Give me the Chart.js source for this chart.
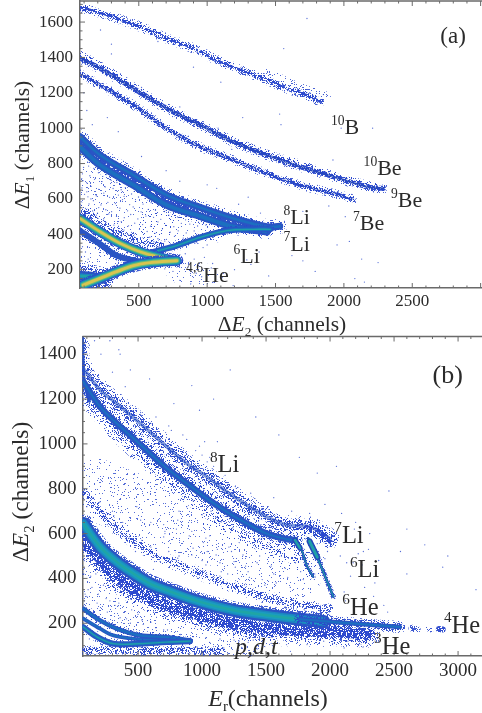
<!DOCTYPE html>
<html><head><meta charset="utf-8">
<style>
html,body{margin:0;padding:0;background:#fff;width:482px;height:713px;overflow:hidden}
canvas{position:absolute;left:0;filter:blur(0.5px)}
#ca{top:0}#cb{top:335px}
</style>
<script src="https://cdn.jsdelivr.net/npm/chart.js@4"></script>
</head><body>
<canvas id="ca" width="482" height="345"></canvas>
<canvas id="cb" width="482" height="378"></canvas>
<script>
// ---------- panel (a) ----------
const aXTicks=[500,1000,1500,2000,2500];
const aYTicks=[200,400,600,800,1000,1200,1400,1600];
const a10B=[[70,1683],[192,1658],[338,1621],[509,1574],[704,1508],[899,1451],[1070,1385],[1241,1329],[1411,1282],[1582,1225],[1729,1187],[1826,1150]];
const a10Bfaint=[[1450,1320],[1600,1262],[1750,1215],[1880,1185]];
const a10Be=[[70,1425],[250,1345],[460,1243],[630,1155],[800,1082],[1000,1000],[1200,935],[1436,860],[1680,805],[1900,745],[2100,700],[2270,665]];
const a9Be=[[70,1395],[216,1338],[460,1225],[704,1112],[948,1018],[1192,923],[1436,848],[1680,782],[1924,726],[2168,669],[2290,660]];
const a7Be=[[70,1306],[216,1244],[460,1131],[704,999],[948,895],[1192,820],[1436,744],[1680,678],[1924,631],[2070,599]];
const a8Li=[[70,952],[216,848],[460,735],[704,622],[948,552],[1192,490],[1436,443],[1530,445]];
const a7Li=[[70,895],[216,792],[460,679],[704,566],[948,503],[1192,443],[1436,415]];
const aLiMid=[[70,924],[216,820],[460,707],[704,594],[948,528],[1192,466],[1436,430]];
const a6Li=[[582,296],[753,330],[948,383],[1144,421],[1339,428],[1461,428]];
const a6Lifaint=[[70,545],[216,471],[338,412],[460,377],[558,349],[700,340]];
const a4He=[[70,490],[216,415],[363,349],[509,302],[656,270],[778,251]];
const a4Helow=[[70,420],[216,345],[338,280],[480,250],[600,245]];
const a6He=[[94,113],[216,151],[338,189],[460,223],[582,240],[778,251]];
const aBlob1=[[80,165],[150,160],[230,148]];
const aCloud1=[[70,660],[300,600],[600,470]];
const aCloud2=[[600,450],[800,440],[1050,425]];
const aCloud3=[[70,340],[130,260],[330,215]];
const aCloud4=[[780,190],[1000,170]];
const aPtsX=[96,133,171,88,142,205,262,92,118,176,231,298,340,84,151,207,255,312,371,402,103,128,189,244,286,351,392,447,498,79,136,168,223,274,329,381,433,476,531,590,110,162,207,259,301,362,418,459,517,569,622,688,744,144,190,243,280,337,394,441,493,552,608,661,719,783,842,260,318,372,425,470,528,586,640,697,756,811,873,930,990,392,447,505,561,618,673,730,788,847,905,580,640,702,761,825,610,690,
 75,83,120,150,198,92,142,88,110,171,76,130,560,630,690,750,800,860,920,980,1040,1110,1200,1290,1380,760,840,905,970,1030,1120,800,880,960,1050,1190,1320,1450,830,910,1000,1620,1700,1790,1950,2080,2150,2130,1850,1530,1260,1100,900,640,410,300,220,120,98,160,270,350,520,700,800,1000,1300,1700,1980,2210,1920,1540,1180,780,1890,2010,1070,1230,1390,1560,1730,300,520,800,1080,1400,1750,2040,2250,1630,1450];
const aPtsY=[778,786,772,742,731,748,738,703,692,711,698,705,693,662,671,654,668,659,652,664,626,612,618,633,609,622,615,628,611,584,572,590,566,581,574,596,568,586,571,579,547,532,551,539,528,548,533,555,527,541,536,529,544,497,509,488,515,501,494,512,487,503,496,485,508,499,482,467,452,471,448,463,455,446,470,451,443,462,458,447,452,424,411,428,416,405,431,412,420,408,419,384,375,371,388,379,358,362,
 860,715,640,600,520,470,360,330,300,385,420,260,220,245,205,190,285,215,180,270,235,155,200,255,300,340,290,260,325,210,180,140,120,160,130,110,230,165,370,350,340,280,250,190,340,150,130,260,1190,1080,1060,1260,1345,1490,1600,1475,1555,1100,1200,1020,1060,980,840,760,700,680,610,530,1000,1000,820,1020,880,950,560,500,660,570,520,1450,1620,1420,1230,1120,1000,860,790,360,240];

// ---------- panel (b) ----------
const bXTicks=[500,1000,1500,2000,2500,3000];
const bYTicks=[200,400,600,800,1000,1200,1400];
const b8Li=[[72,1337],[203,1241],[333,1181],[515,1092],[724,988],[880,913],[1036,854],[1193,787],[1349,727],[1505,675],[1661,638],[1843,630],[1999,578]];
const b7Li=[[72,1278],[203,1166],[333,1092],[463,1025],[593,958],[724,891],[880,824],[1036,757],[1193,697],[1349,645],[1505,600],[1661,575],[1726,571]];
const b7Low=[[100,1190],[333,1040],[593,905],[880,770],[1193,640],[1505,540],[1750,490]];
const bTop=[[66,1470],[72,1350],[85,1260],[120,1190]];
const bSpike7=[[1726,571],[1778,526],[1817,459],[1869,407]];
const bSpike6=[[1830,578],[1882,518],[1947,429],[2026,318]];
const bHead7=[[1726,571],[1765,535]];
const bHead6=[[1840,565],[1900,495]];
const bEndBlob=[[1800,630],[1900,612],[2000,565]];
const b4He=[[72,645],[203,541],[333,474],[463,422],[593,377],[724,347],[984,295],[1245,258],[1505,236],[1765,218],[1950,208]];
const b4HeTail=[[1765,218],[2026,206],[2286,194],[2546,183]];
const b3He=[[72,578],[203,489],[333,407],[463,355],[724,280],[984,236],[1245,198],[1505,176],[1765,169],[2026,161],[2286,154]];
const b6He=[[72,787],[203,697],[333,623],[593,518],[854,451],[1114,392],[1375,340],[1635,295],[1895,273]];
const bP=[[72,265],[203,213],[333,176],[515,146],[724,138],[906,124]];
const bD=[[72,221],[203,176],[307,146],[515,128],[724,125]];
const bT=[[72,183],[180,139],[307,109],[515,109],[724,116],[906,120]];
const bBase=[[72,78],[330,82],[620,76],[880,80],[1150,76]];
const bTail=[[2640,178],[2680,172]];
const bTail2=[[2760,176],[2790,170]];
const bTail3=[[2850,174],[2880,172]];
const bBlob=[[1950,262],[1990,268]];
const bCloud1=[[150,800],[600,700],[1100,600],[1700,430]];
const bCloud2=[[1100,680],[1500,560],[1850,470]];
const bCloud3=[[72,390],[400,230],[900,185],[1300,110]];
const bCloud4=[[1500,130],[2100,125]];
const bPtsX=[1000,1070,1110,880,930,1150,1240,1350,1460,1580,1700,1800,1900,1980,1060,1180,1290,1400,1510,1620,1730,1850,1960,1210,1320,1430,1540,1650,1770,1880,1000,1110,800,900,1010,1120,1230,1340,1450,1560,1670,1790,700,810,920,1030,1140,1250,1360,1470,1580,1690,600,710,820,930,1040,1150,1260,1370,1490,480,590,700,810,920,1030,1140,380,490,600,710,820,300,410,520,630,740,200,310,420,530,640,150,260,370,480,100,210,320,430,90,180,270,140,
 100,180,260,340,420,110,190,280,360,450,530,620,130,230,320,410,500,600,700,800,90,170,250,350,440,540,640,730,830,930,1030,1140,1250,1360,120,210,300,390,480,570,660,760,860,960,1060,1170,1290,1400,1540,1660,1780,1900,2020,2140,2260,2380,1310,1430,1550,1690,1820,1950,2110,2230,80,76,86,74,82,
 760,880,980,1000,1040,1080,950,1020,1060,1090,1180,640,740,850,980,1120,300,400,520,210,350,440,590,780,920,1090,1220,1420,1600,1760,1900,2050,1100,1260,1380,1560,1700,1840,1960,2090,2200,2310,2460,2600,2740,2920,2000,2120,2180,2250,2300,2080,2130,2220,2380,2600,2880,3140,2350,2450,2550,2110,2160,2270,2340,2190,2260,2420,120,280,160,360,1200,1270];
const bPtsY=[684,700,672,720,746,652,626,600,640,585,560,530,555,520,590,610,560,612,534,500,470,510,488,540,505,470,455,445,430,420,480,505,620,590,560,530,520,455,500,420,405,395,640,660,610,580,470,475,430,395,380,360,650,610,700,535,520,430,450,405,370,570,640,585,490,505,460,410,650,720,540,600,500,700,575,660,475,520,740,680,610,570,500,760,640,600,520,720,700,640,580,650,550,450,
 360,320,290,250,275,400,350,330,300,225,260,215,440,410,370,280,220,240,205,170,480,520,420,310,290,200,195,180,170,150,140,135,130,125,115,130,105,150,170,110,100,120,98,110,95,115,90,120,125,110,105,130,145,110,120,95,118,92,85,100,75,105,120,90,110,480,420,330,260,300,
 1060,1020,990,950,920,890,970,1010,940,900,860,1120,1080,1040,1150,1010,1320,1255,1140,1400,1420,1330,1290,1180,1260,1200,1330,1120,1040,940,870,900,820,810,780,760,700,690,730,690,650,600,790,620,550,500,330,300,470,460,530,500,470,510,480,420,450,350,380,250,520,340,410,360,320,620,520,280,1440,1460,1460,1400,420,880];

const AX=[[70,3010],[96.5,1719]];
const BX=[[66,3187],[54,1479]];
const frame='#6a6a6a', ink='#2b2b2b', fnt='"Liberation Serif","Times New Roman",serif';
const dot='rgba(45,75,205,0.8)';
const BLUE='#2347b9',MID='#1b6fc0',TEAL='#1f9fa8',GRN='#7fbf70',YEL='#e2c64a';
const SOFT='#2a55c4',SKY='#1c86c0',AQUA='#1fa5a5',LEAF='#6fbb78',GOLD='#d8c450';

// speckle texture used as a stroke style for the fuzzy edge of each band
function tile(density,alpha){
  const n=128,c=document.createElement('canvas');c.width=c.height=n;
  const g=c.getContext('2d');g.fillStyle=`rgba(42,72,205,${alpha})`;
  for(let y=0;y<n;y++)for(let x=0;x<n;x++){
    let h=Math.imul(x*73856093^y*19349663,2654435761)>>>0;h=(h^(h>>>13));h=Math.imul(h,1274126177)>>>0;h=(h^(h>>>16))>>>0;
    if((h%1000)/1000<density)g.fillRect(x,y,1,1);
  }
  return g.createPattern(c,'repeat');
}
const S0=tile(0.06,0.8),S1=tile(0.12,0.85),S2=tile(0.25,0.9),S3=tile(0.45,0.9),S4=tile(0.75,0.95);
const fz=(w)=>[[S1,w],[S2,w*0.72],[S3,w*0.48]];
const fzL=(w)=>[[S1,w],[S2,w*0.6]];

function pairs(xs,ys){return xs.map((x,i)=>[x,ys[i]]);}
function build(bands,ptsX,ptsY){
  const ds=[];
  ds.push({data:pairs(ptsX,ptsY),showLine:false,pointRadius:0.65,pointBorderWidth:0,pointBackgroundColor:dot});
  for(const [arr,layers] of bands){
    for(const [color,w] of layers){
      ds.push({data:arr,showLine:true,pointRadius:0,borderColor:color,borderWidth:w,tension:0.35,borderCapStyle:'round',borderJoinStyle:'round'});
    }
  }
  ds.forEach((d,i)=>d.order=ds.length-i);
  return ds;
}
function runs(ctx,x,y,items,size,center){
  const f=(it)=>`${it.i?'italic ':''}${Math.round(size*(it.s||1)*10)/10}px ${fnt}`;
  let w=0;for(const it of items){ctx.font=f(it);w+=ctx.measureText(it.t).width;}
  let cx=center?x-w/2:x;
  ctx.textAlign='left';ctx.textBaseline='alphabetic';ctx.fillStyle=ink;
  for(const it of items){ctx.font=f(it);ctx.fillText(it.t,cx,y+(it.dy||0)*size);cx+=ctx.measureText(it.t).width;}
}
function iso(sup,name){return [{t:sup,s:0.62,dy:-0.42},{t:name}];}
function overlay(id,labels,xTitle,yTitle){
  return {id,afterDatasetsDraw(c){
    const {ctx,chartArea:ca,scales:{x,y}}=c;
    ctx.save();
    ctx.strokeStyle=frame;ctx.lineWidth=1;ctx.beginPath();
    for(let v=100;v<x.max;v+=100){const p=x.getPixelForValue(v);if(p<ca.left)continue;const l=v%500==0?5:2.5;ctx.moveTo(p,ca.bottom);ctx.lineTo(p,ca.bottom-l);ctx.moveTo(p,ca.top);ctx.lineTo(p,ca.top+l);}
    for(let v=100;v<y.max;v+=50){const p=y.getPixelForValue(v);if(p>ca.bottom)continue;const l=v%200==0?5:2.5;ctx.moveTo(ca.left,p);ctx.lineTo(ca.left+l,p);}
    ctx.stroke();
    ctx.lineWidth=1.4;ctx.beginPath();ctx.moveTo(ca.left,ca.top);ctx.lineTo(ca.right,ca.top);ctx.stroke();
    for(const l of labels) runs(ctx,x.getPixelForValue(l.x),y.getPixelForValue(l.y),l.items,l.size);
    runs(ctx,xTitle.x,xTitle.y,xTitle.items,xTitle.size,true);
    ctx.translate(yTitle.x,yTitle.y);ctx.rotate(-Math.PI/2);
    runs(ctx,0,0,yTitle.items,yTitle.size,true);
    ctx.restore();
  }};
}
function noPad(s){s.paddingTop=s.paddingBottom=s.paddingLeft=s.paddingRight=0;}
function make(id,bands,px,py,rng,xt,yt,left,bottom,top,tf,xpad,ypad,labels,xTitle,yTitle){
  const tick=(t)=>({color:ink,font:{family:fnt,size:tf},maxRotation:0,autoSkip:false,padding:t,includeBounds:false,callback:v=>String(v)});
  return new Chart(document.getElementById(id),{type:'scatter',
    data:{datasets:build(bands,px,py)},
    plugins:[overlay('ov'+id,labels,xTitle,yTitle)],
    options:{responsive:false,animation:false,devicePixelRatio:1,
      layout:{autoPadding:false,padding:{top,right:0,left:0,bottom:0}},
      plugins:{legend:{display:false},tooltip:{enabled:false}},
      scales:{
        x:{type:'linear',min:rng[0][0],max:rng[0][1],afterBuildTicks:s=>{s.ticks=xt.map(v=>({value:v}));},
           ticks:tick(xpad),grid:{display:false,drawTicks:false},border:{color:frame,width:1.5},afterFit:s=>{s.height=bottom;noPad(s);}},
        y:{type:'linear',min:rng[1][0],max:rng[1][1],afterBuildTicks:s=>{s.ticks=yt.map(v=>({value:v}));},
           ticks:tick(ypad),grid:{display:false,drawTicks:false},border:{color:frame,width:1.5},afterFit:s=>{s.width=left;noPad(s);}}
      }}});
}
const aBands=[
 [aCloud1,[[S0,50]]],[aCloud2,[[S0,26]]],[aCloud3,[[S0,24]]],[aCloud4,[[S0,22]]],
 [a10B,[...fz(10),[S4,2.6]]],
 [a10Bfaint,[[S1,7]]],
 [a10Be,[...fzL(6)]],
 [a9Be,[...fz(10),[S4,5],[BLUE+'aa',2.6]]],
 [a7Be,[...fz(9),[S4,3.6],[BLUE+'66',1.6]]],
 [a6Lifaint,[[S1,13],[S2,8],[S3,4]]],
 [a8Li,[...fz(15)]],
 [a7Li,[...fz(15)]],
 [aLiMid,[[S4,9]]],
 [a8Li,[[SOFT,7],[MID,2.6]]],
 [a7Li,[[SOFT,7.6],[MID,3.8]]],
 [a6Li,[...fz(11),[SOFT,6],[MID,3.4],[TEAL,1.4]]],
 [a4Helow,[...fz(13),[SOFT,6]]],
 [aBlob1,[[S2,24],[S3,18],[SOFT,10],[SKY,5],[AQUA,2.5]]],
 [a4He,[[S3,12.5],[SOFT,9.5],[SKY,7.6],[AQUA,6],[LEAF,4.4],[GOLD,2.6]]],
 [a6He,[[S3,13],[SOFT,10],[SKY,8],[AQUA,6.4],[LEAF,4.8],[GOLD,3]]],
];
const bBands=[
 [bCloud1,[[S0,62]]],[bCloud2,[[S0,30],[S1,12]]],[bCloud3,[[S0,50]]],[bCloud4,[[S0,14]]],
 [bTop,[...fz(13),[SOFT,3]]],
 [b7Low,[[S1,14],[S2,7]]],
 [b8Li,[...fz(20),[SOFT+'99',3.5]]],
 [b7Li,[...fz(21),[SOFT,6.5],[MID,2]]],
 [bEndBlob,[[S2,15],[S3,10],[S4,5]]],
 [bSpike7,[[S3,4.5],[BLUE,2.4],[TEAL,0.9]]],
 [bSpike6,[[S3,5],[BLUE,2.8],[TEAL,1.1]]],
 [bHead7,[[BLUE,5.5],[TEAL,2.6]]],
 [bHead6,[[BLUE,6],[TEAL,3]]],
 [b6He,[[S1,13],[S2,8],[S3,3.5]]],
 [b3He,[[S1,28],[S2,22],[S3,17],[S4,11]]],
 [b4He,[[S3,18],[SOFT,13],[SKY,8.6],['#1a9cc0',5.6],[AQUA,2.4]]],
 [b4HeTail,[[S2,12],[S3,8.5],[SOFT,4.5],[MID,2]]],
 [bP,[...fzL(10),[SOFT,4.6],[MID,2.2]]],
 [bD,[[SOFT,3.8],[MID,1.6]]],
 [bT,[...fzL(10),[SOFT,6],[MID,3],[TEAL,1.3]]],
 [bBase,[[S2,9],[S3,6]]],
 [bTail,[[S3,7]]],[bTail2,[[S2,5]]],[bTail3,[[S4,6]]],[bBlob,[[S3,9]]],
];
const T=(t)=>({t}), I=(t)=>({t,i:1}), SUB=(t)=>({t,s:0.62,dy:0.24});
const aLabels=[
 {x:2705,y:1483,size:23,items:[T('(a)')]},
 {x:1905,y:967,size:22,items:iso('10','B')},
 {x:2144,y:735,size:22,items:iso('10','Be')},
 {x:2344,y:552,size:22,items:iso('9','Be')},
 {x:2066,y:424,size:22,items:iso('7','Be')},
 {x:1558,y:458,size:22,items:iso('8','Li')},
 {x:1558,y:308,size:22,items:iso('7','Li')},
 {x:1192,y:236,size:22,items:iso('6','Li')},
 {x:846,y:132,size:22,items:iso('4,6','He')},
];
const bLabels=[
 {x:2801,y:1270,size:26,items:[T('(b)')]},
 {x:1062,y:873,size:24.5,items:iso('8','Li')},
 {x:2033,y:560,size:24.5,items:iso('7','Li')},
 {x:2156,y:407,size:24.5,items:iso('6','Li')},
 {x:2096,y:239,size:24.5,items:iso('6','He')},
 {x:2890,y:158,size:24.5,items:iso('4','He')},
 {x:2344,y:64,size:24.5,items:iso('3','He')},
 {x:1257,y:64,size:24,items:[I('p,d,t')]},
];
make('ca',aBands,aPtsX,aPtsY,AX,aXTicks,aYTicks,80,57,1,17,3,7,aLabels,
 {x:282,y:331,size:21.5,items:[T('Δ'),I('E'),SUB('2'),T(' (channels)')]},
 {x:29,y:145,size:21.5,items:[T('Δ'),I('E'),SUB('1'),T(' (channels)')]});
make('cb',bBands,bPtsX,bPtsY,BX,bXTicks,bYTicks,82.5,57,1.5,19,4,6,bLabels,
 {x:268,y:370.5,size:24,items:[I('E'),SUB('r'),T('(channels)')]},
 {x:28,y:157,size:23.5,items:[T('Δ'),I('E'),SUB('2'),T(' (channels)')]});
</script>
</body></html>
